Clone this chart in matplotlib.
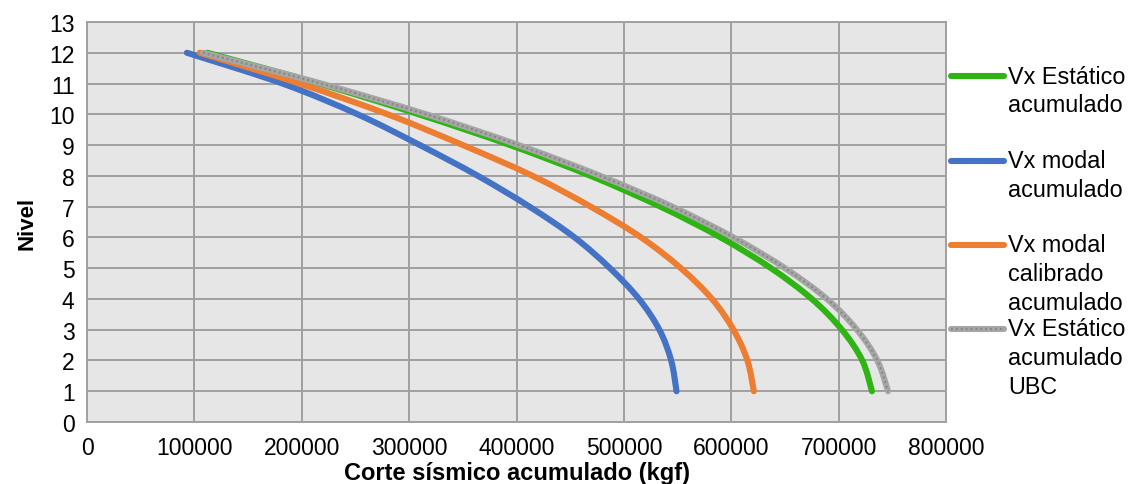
import numpy as np
import matplotlib
matplotlib.use('Agg')
import matplotlib.pyplot as plt
from matplotlib.path import Path
from matplotlib.patches import PathPatch
from matplotlib.lines import Line2D

plt.rcParams['font.family'] = ['Liberation Sans', 'DejaVu Sans']

# levels (top to bottom) and accumulated shear in kgf
niveles = [12, 11, 10, 9, 8, 7, 6, 5, 4, 3, 2, 1]
vx_estatico = [112000, 216000, 309000, 394000, 469000, 534000, 590000, 637000, 675000, 703000, 722000, 731000]
vx_modal = [93000, 182000, 252000, 310000, 364000, 412000, 454000, 487000, 514000, 533000, 544000, 549000]
vx_modal_cal = [105000, 198000, 280000, 350000, 415000, 469000, 516000, 553000, 582000, 602000, 615000, 621000]
vx_ubc = [108000, 218000, 316000, 402000, 478000, 545000, 602000, 650000, 689000, 717000, 736000, 746000]

labels = ['Vx Estático\nacumulado', 'Vx modal\nacumulado',
          'Vx modal\ncalibrado\nacumulado', 'Vx Estático\nacumulado\nUBC']
colors = ['#2eb413', '#4472c4', '#ed7d31', '#a6a6a6']
series = [vx_estatico, vx_modal, vx_modal_cal, vx_ubc]

x_ticks = [0, 100000, 200000, 300000, 400000, 500000, 600000, 700000, 800000]
y_ticks = list(range(0, 14))


def smooth_path(x, y):
    # bezier path through the points, like excel's smoothed line
    p = np.column_stack([x, y]).astype(float)
    ext = np.vstack([p[0], p, p[-1]])
    verts = [p[0]]
    codes = [Path.MOVETO]
    for i in range(len(p) - 1):
        c1 = ext[i + 1] + (ext[i + 2] - ext[i]) / 6
        c2 = ext[i + 2] - (ext[i + 3] - ext[i + 1]) / 6
        verts += [c1, c2, p[i + 1]]
        codes += [Path.CURVE4] * 3
    return Path(verts, codes)


fig = plt.figure(figsize=(11.33, 4.85), dpi=100)
ax = fig.add_axes([0.0768, 0.1278, 0.7582, 0.8248])
ax.set_facecolor('#e6e6e6')

LW = 4.4
for vals, c in zip(series, colors):
    ax.add_patch(PathPatch(smooth_path(vals, niveles), fill=False, edgecolor=c,
                           lw=LW, capstyle='round', joinstyle='round', zorder=3))
# speckled texture on the UBC line
ax.add_patch(PathPatch(smooth_path(vx_ubc, niveles), fill=False, edgecolor='#858585',
                       lw=1.6, linestyle=(0, (0.8, 1.4)), zorder=4))

ax.set_xlim(0, 800000)
ax.set_ylim(0, 13)
ax.set_xticks(x_ticks)
ax.set_yticks(y_ticks)
ax.set_xticklabels([str(v) for v in x_ticks])
ax.tick_params(length=0, labelsize=16.5, colors='black')
ax.tick_params(axis='x', pad=10)
ax.tick_params(axis='y', pad=9)
ax.grid(True, color='#a0a0a0', lw=1.4, zorder=1)
ax.set_axisbelow(True)
for s in ax.spines.values():
    s.set_color('#a0a0a0')
    s.set_linewidth(1.4)

ax.set_xlabel('Corte sísmico acumulado (kgf)', fontsize=17, fontweight='bold', labelpad=1.5)
ax.set_ylabel('Nivel', fontsize=16, fontweight='bold', labelpad=8)

# legend drawn by hand: handle next to the first text line
W, H = 1133, 485
entry_y = [77, 162, 246, 330]
line_gap = 28.5
for yy, lab, c in zip(entry_y, labels, colors):
    fig.add_artist(Line2D([951 / W, 1004 / W], [1 - yy / H, 1 - yy / H], color=c,
                          lw=LW, solid_capstyle='round'))
    if c == '#a6a6a6':
        fig.add_artist(Line2D([951 / W, 1004 / W], [1 - yy / H, 1 - yy / H], color='#858585',
                              lw=1.6, linestyle=(0, (0.8, 1.4))))
    for k, txt in enumerate(lab.split('\n')):
        fig.text(1008 / W, 1 - (yy + k * line_gap) / H, txt, fontsize=16.8,
                 ha='left', va='center')

fig.savefig('out.png', dpi=100)
